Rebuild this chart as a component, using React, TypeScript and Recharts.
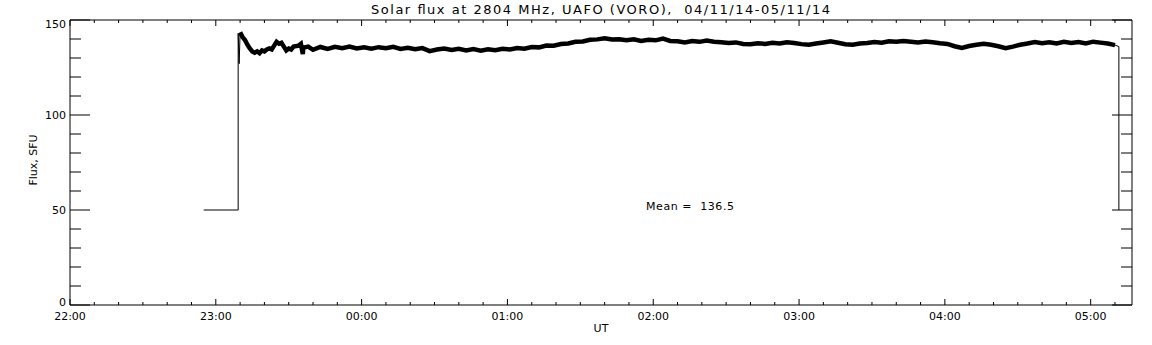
import { Line, LineChart, XAxis, YAxis } from "recharts"

const W = 1152
const H = 345

// minutes after 22:00 UT
const xTicks = [
  0, 10, 20, 30, 40, 50, 60, 70, 80, 90, 100, 110, 120, 130, 140, 150, 160, 170, 180, 190,
  200, 210, 220, 230, 240, 250, 260, 270, 280, 290, 300, 310, 320, 330, 340, 350, 360, 370,
  380, 390, 400, 410, 420, 430,
]
const hourLabels = ["22:00", "23:00", "00:00", "01:00", "02:00", "03:00", "04:00", "05:00"]
const yTicks = [0, 10, 20, 30, 40, 50, 60, 70, 80, 90, 100, 110, 120, 130, 140, 150]

// flat part before the antenna is switched on + the jump
const leadInMin = [55, 69.2, 69.2, 69.6, 70]
const leadInFlux = [50, 50, 143, 127, 143.5]

// flux record (SFU)
const fluxMin = [
  70, 71, 72, 73, 74, 75, 76, 77, 78, 79, 80, 81, 82, 83, 84, 85, 86, 87, 88, 89, 90, 91, 92,
  94, 95, 95.8, 96, 98, 100, 103, 106, 109, 112, 115, 118, 121, 124, 127, 130, 133, 136, 139,
  142, 145, 148, 151, 154, 157, 160, 163, 166, 169, 172, 175, 178, 181, 184, 187, 190, 193,
  196, 199, 202, 205, 208, 211, 214, 217, 220, 223, 226, 229, 232, 235, 238, 241, 244, 247,
  250, 253, 256, 259, 262, 265, 268, 271, 274, 277, 280, 283, 286, 289, 292, 295, 298, 301,
  304, 307, 310, 313, 316, 319, 322, 325, 328, 331, 334, 337, 340, 343, 346, 349, 352, 355,
  358, 361, 364, 367, 370, 373, 376, 379, 382, 385, 388, 391, 394, 397, 400, 403, 406, 409,
  412, 415, 418, 421, 424, 427, 430,
]
const fluxVal = [
  143.5, 141, 139.5, 137, 135, 133.5, 132.8, 133.5, 132.5, 134, 133.5, 134.5, 135, 134.5,
  136.5, 138.5, 137.5, 138, 136, 134, 135, 134.5, 136, 136.5, 137.5, 132, 135.5, 136, 134.3,
  135.8, 134.8, 135.9, 135.2, 136.0, 135.0, 135.6, 134.9, 135.7, 135.1, 135.9, 134.8, 135.4,
  134.6, 135.2, 133.6, 134.5, 135.0, 134.2, 134.8, 134.0, 134.7, 133.9, 134.6, 134.1, 134.9,
  134.5, 135.3, 134.9, 135.8, 135.6, 136.6, 136.5, 137.4, 137.6, 138.5, 138.7, 139.6, 139.8,
  140.4, 139.7, 139.9, 139.3, 139.8, 139.0, 139.6, 139.3, 140.2, 139.0, 138.8, 138.2, 138.9,
  138.5, 139.2, 138.6, 138.3, 137.9, 138.2, 137.4, 137.2, 137.8, 137.4, 138.0, 137.6, 138.3,
  137.9, 137.3, 137.0, 137.6, 138.2, 138.8, 138.0, 137.2, 137.0, 137.6, 137.9, 138.4, 138.0,
  138.8, 138.5, 139.0, 138.6, 138.2, 138.7, 138.3, 137.8, 137.4, 136.2, 135.3, 136.3, 137.0,
  137.5, 137.0, 136.2, 135.2, 136.0, 137.0, 137.6, 138.4, 137.8, 138.3, 137.6, 138.5, 137.9,
  138.4, 137.7, 138.6, 138.1, 137.6, 136.8,
]

// switch-off at the end
const leadOutMin = [430, 431.6, 431.6]
const leadOutFlux = [136.8, 136, 50]

const meanFlux = 136.5

const toRows = (t: number[], v: number[]) => t.map((m, i) => ({ t: m, v: v[i] }))

const font = "'DejaVu Sans', sans-serif"

const BottomTick = ({ x, y, payload }: any) => {
  const major = payload.value % 60 === 0
  return (
    <g>
      <line x1={x} x2={x} y1={y} y2={y - (major ? 6 : 3)} stroke="#000" />
      {major && (
        <text x={x} y={y + 15} textAnchor="middle" fontSize={11} fontFamily={font} fill="#000">
          {hourLabels[payload.value / 60]}
        </text>
      )}
    </g>
  )
}

const TopTick = ({ x, y, payload }: any) => {
  const major = payload.value % 60 === 0
  return <line x1={x} x2={x} y1={y} y2={y + (major ? 6 : 3)} stroke="#000" />
}

const LeftTick = ({ x, y, payload }: any) => {
  const v = payload.value
  const major = v % 50 === 0
  // end labels sit a little inside, like the original plot
  const shift = v === 150 ? 3.5 : v === 0 ? -3.5 : 0
  return (
    <g>
      <line x1={x} x2={x + (major ? 20 : 11)} y1={y} y2={y} stroke="#000" />
      {major && (
        <text x={x - 4} y={y + shift + 4} textAnchor="end" fontSize={11} fontFamily={font} fill="#000">
          {v}
        </text>
      )}
    </g>
  )
}

const RightTick = ({ x, y, payload }: any) => {
  const major = payload.value % 50 === 0
  return <line x1={x} x2={x - (major ? 20 : 11)} y1={y} y2={y} stroke="#000" />
}

export default function App() {
  return (
    <div style={{ position: "absolute", left: 0, top: 0, width: W, height: H, background: "#fff" }}>
      <LineChart width={W} height={H} margin={{ top: 19, right: 19, bottom: 0, left: 0 }}>
        <XAxis
          type="number"
          dataKey="t"
          domain={[0, 437]}
          allowDataOverflow
          ticks={xTicks}
          interval={0}
          height={40}
          tickSize={0}
          tickMargin={0}
          tickLine={false}
          axisLine={{ stroke: "#000" }}
          tick={<BottomTick />}
        />
        <XAxis
          xAxisId="top"
          orientation="top"
          type="number"
          dataKey="t"
          domain={[0, 437]}
          allowDataOverflow
          ticks={xTicks}
          interval={0}
          height={1}
          tickSize={0}
          tickMargin={0}
          tickLine={false}
          axisLine={{ stroke: "#000" }}
          tick={<TopTick />}
        />
        <YAxis
          type="number"
          domain={[0, 150]}
          allowDataOverflow
          ticks={yTicks}
          interval={0}
          width={70}
          tickSize={0}
          tickMargin={0}
          tickLine={false}
          axisLine={{ stroke: "#000" }}
          tick={<LeftTick />}
        />
        <YAxis
          yAxisId="right"
          orientation="right"
          type="number"
          domain={[0, 150]}
          allowDataOverflow
          ticks={yTicks}
          interval={0}
          width={1}
          tickSize={0}
          tickMargin={0}
          tickLine={false}
          axisLine={{ stroke: "#000" }}
          tick={<RightTick />}
        />
        <Line
          data={toRows(leadInMin, leadInFlux)}
          dataKey="v"
          type="linear"
          stroke="#000"
          strokeWidth={1}
          dot={false}
          isAnimationActive={false}
        />
        <Line
          data={toRows(fluxMin, fluxVal)}
          dataKey="v"
          type="linear"
          stroke="#000"
          strokeWidth={4.5}
          dot={false}
          isAnimationActive={false}
        />
        <Line
          data={toRows(leadOutMin, leadOutFlux)}
          dataKey="v"
          type="linear"
          stroke="#000"
          strokeWidth={1}
          dot={false}
          isAnimationActive={false}
        />
      </LineChart>
      <svg
        width={W}
        height={H}
        style={{ position: "absolute", left: 0, top: 0, pointerEvents: "none" }}
        fontFamily={font}
        fill="#000"
      >
        <text x={600.5} y={13.5} textAnchor="middle" fontSize={13} textLength={459} lengthAdjust="spacing" style={{ whiteSpace: "pre" }}>
          {"Solar flux at 2804 MHz, UAFO (VORO),  04/11/14-05/11/14"}
        </text>
        <text x={37} y={160} textAnchor="middle" fontSize={11} transform="rotate(-90 37 160)">
          Flux, SFU
        </text>
        <text x={601} y={332} textAnchor="middle" fontSize={11}>
          UT
        </text>
        <text x={646} y={209.5} fontSize={11} textLength={88} lengthAdjust="spacing" style={{ whiteSpace: "pre" }}>
          {`Mean =  ${meanFlux.toFixed(1)}`}
        </text>
      </svg>
    </div>
  )
}
